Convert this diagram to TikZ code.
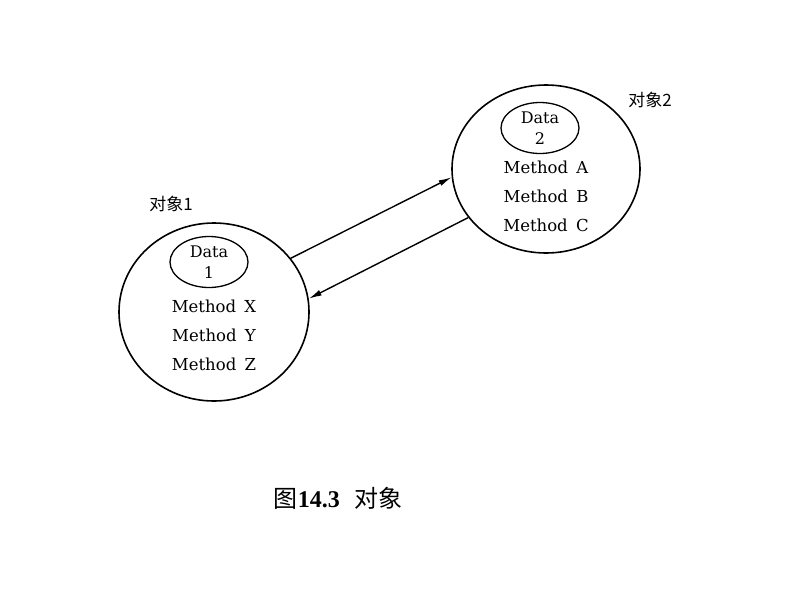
\documentclass[tikz,border=0pt]{standalone}
\usepackage{fontspec}
\newfontfamily\cjk{Noto Sans CJK SC}
\newfontfamily\tnr{Liberation Serif}
\newfontfamily\dvs{DejaVu Serif}
\usetikzlibrary{shapes.geometric,arrows.meta}
\tikzset{
  obj/.style={draw, ellipse, line width=1.6pt, inner sep=0pt},
  datab/.style={draw, ellipse, line width=1.3pt, inner sep=0pt, minimum width=78pt, minimum height=51pt,
    align=center, font=\dvs\fontsize{16}{21}\selectfont},
  meth/.style={font=\dvs\fontsize{16.5}{22}\selectfont, inner sep=0pt, anchor=base},
  lbl/.style={font=\cjk\fontsize{17}{19}\selectfont, inner sep=0pt},
  msg/.style={line width=1.4pt, -{Latex[length=13pt,width=6pt]}}
}
\begin{document}
\begin{tikzpicture}[x=1pt,y=-1pt]
\useasboundingbox (0,0) rectangle (800,600);
% object 1
\node[obj, minimum width=190pt, minimum height=178pt] (o1) at (214,312) {};
\node[datab] (d1) at (209,262) {Data\\1};
\node[meth] (x1) at (214,312) {Method\hspace{0.5em}X};
\node[meth] (y1) at (214,341) {Method\hspace{0.5em}Y};
\node[meth] (z1) at (214,370) {Method\hspace{0.5em}Z};
\node[lbl] (l1) at (171,204) {对象1};
% object 2
\node[obj, minimum width=188pt, minimum height=168pt] (o2) at (546,169) {};
\node[datab] (d2) at (540,128) {Data\\2};
\node[meth] (a2) at (546,173) {Method\hspace{0.5em}A};
\node[meth] (b2) at (546,202) {Method\hspace{0.5em}B};
\node[meth] (c2) at (546,231) {Method\hspace{0.5em}C};
\node[lbl] (l2) at (650,100) {对象2};
% messages
\draw[msg] (o1.35) -- (o2.185);
\draw[msg] (o2.212) -- (o1.8.5);
% caption
\node[inner sep=0pt] (cap) at (338,498) {\fontsize{24}{28}\selectfont{\cjk 图}{\tnr\bfseries 14.3}\hspace{0.6em}{\cjk 对象}};
\end{tikzpicture}
\end{document}
